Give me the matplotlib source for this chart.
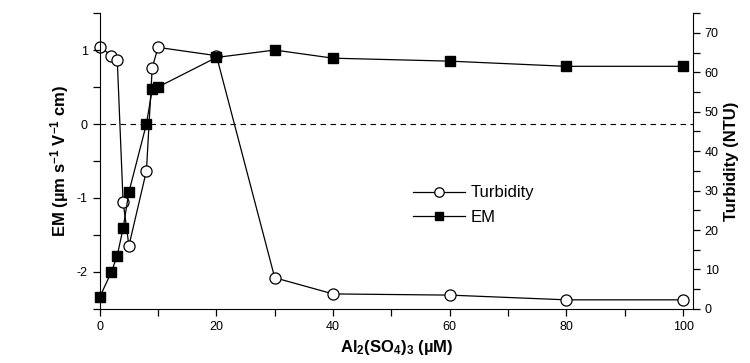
import matplotlib
matplotlib.use("Agg")
import matplotlib.pyplot as plt
from matplotlib.ticker import MultipleLocator

plt.rcParams['font.family'] = ['Liberation Sans', 'DejaVu Sans']
plt.rcParams['mathtext.fontset'] = 'custom'
plt.rcParams['mathtext.rm'] = 'Liberation Sans'
plt.rcParams['mathtext.bf'] = 'Liberation Sans:bold'
plt.rcParams['mathtext.it'] = 'Liberation Sans:italic'
plt.rcParams['axes.unicode_minus'] = False

# EM (left axis)
em_x = [0, 2, 3, 4, 5, 8, 9, 10, 20, 30, 40, 60, 80, 100]
em_y = [-2.34, -2.0, -1.78, -1.41, -0.92, 0.0, 0.47, 0.5, 0.9, 1.0, 0.89, 0.85, 0.78, 0.78]

# Turbidity (right axis)
tu_x = [0, 2, 3, 4, 5, 8, 9, 10, 20, 30, 40, 60, 80, 100]
tu_y = [66.5, 64.2, 63.2, 27.2, 16.0, 35.0, 61.2, 66.3, 64.2, 7.9, 3.8, 3.5, 2.3, 2.3]

fig = plt.figure(figsize=(7.5, 3.63), dpi=100)
ax = fig.add_axes([0.133, 0.149, 0.791, 0.815])
ax2 = ax.twinx()

ax.axhline(0, color='black', lw=0.8, ls=(0, (5, 4)))

l2, = ax2.plot(tu_x, tu_y, '-o', color='black', lw=0.9, mfc='white', mec='black',
               mew=0.9, ms=8, clip_on=False, label='Turbidity')
l1, = ax.plot(em_x, em_y, '-s', color='black', lw=0.9, mfc='black', mec='black',
              ms=7, clip_on=False, label='EM')
ax.set_zorder(ax2.get_zorder() + 1)
ax.patch.set_visible(False)

ax.set_xlim(0, 101.7)
ax.set_ylim(-2.5, 1.5)
ax2.set_ylim(0, 75)

ax.xaxis.set_major_locator(MultipleLocator(20))
ax.xaxis.set_minor_locator(MultipleLocator(10))
ax.yaxis.set_major_locator(MultipleLocator(1))
ax.yaxis.set_minor_locator(MultipleLocator(0.5))
ax2.yaxis.set_major_locator(MultipleLocator(10))
ax2.yaxis.set_minor_locator(MultipleLocator(5))

for a in (ax, ax2):
    a.spines['top'].set_visible(False)
    a.tick_params(which='major', length=5, width=0.9, labelsize=9, direction='out')
    a.tick_params(which='minor', length=5, width=0.9, direction='out')
ax.spines['right'].set_visible(False)
ax2.spines['left'].set_visible(False)
ax2.spines['bottom'].set_visible(False)

ax.set_xlabel(r'$\mathbf{Al_2(SO_4)_3}$ (µM)', fontsize=12, fontweight='bold')
ax.set_ylabel(r'EM (µm s$^{\mathbf{-1}}$ V$^{\mathbf{-1}}$ cm)', fontsize=12, fontweight='bold')
ax2.set_ylabel('Turbidity (NTU)', fontsize=12, fontweight='bold')

ax.legend(handles=[l2, l1], loc='center left', bbox_to_anchor=(0.503, 0.351),
          frameon=False, fontsize=12, handlelength=3.1, handletextpad=0.35,
          labelspacing=0.55, markerscale=0.85)

fig.savefig('out.png', dpi=100)
